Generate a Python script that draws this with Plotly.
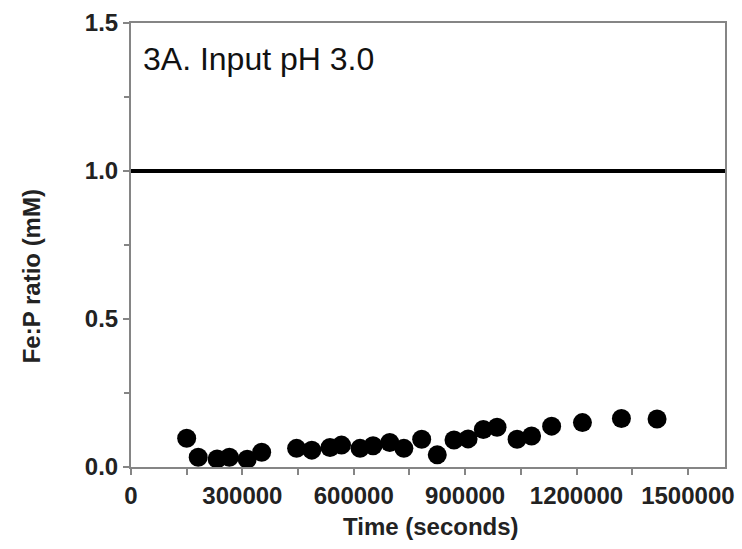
import plotly.graph_objects as go

# Data
time_s = [150000, 181000, 232000, 265000, 313000, 352000, 446000, 487000, 536000,
          567000, 617000, 652000, 697000, 735000, 783000, 825000, 870000, 908000,
          949000, 986000, 1040000, 1079000, 1133000, 1216000, 1321000, 1417000]
fe_p_ratio = [0.097, 0.033, 0.027, 0.033, 0.026, 0.050, 0.063, 0.057, 0.066,
              0.074, 0.063, 0.072, 0.083, 0.063, 0.094, 0.041, 0.091, 0.095,
              0.127, 0.134, 0.094, 0.105, 0.138, 0.150, 0.164, 0.162]

ref_x = [0, 1600000]
ref_y = [1.0, 1.0]

x_tickvals = [0, 300000, 600000, 900000, 1200000, 1500000]
x_ticktext = ["0", "300000", "600000", "900000", "1200000", "1500000"]
y_tickvals = [0.0, 0.5, 1.0, 1.5]
y_ticktext = ["0.0", "0.5", "1.0", "1.5"]

font_family = "Liberation Sans, Arial, sans-serif"
axis_color = "#858585"
text_color = "#222222"

fig = go.Figure()
fig.add_trace(go.Scatter(x=ref_x, y=ref_y, mode="lines",
                         line=dict(color="black", width=4),
                         showlegend=False, hoverinfo="skip"))
fig.add_trace(go.Scatter(x=time_s, y=fe_p_ratio, mode="markers",
                         marker=dict(color="black", size=19, line=dict(width=0)),
                         showlegend=False, cliponaxis=False))

fig.update_layout(
    width=742, height=549,
    margin=dict(l=131, r=17, t=23, b=82),
    paper_bgcolor="white", plot_bgcolor="white",
    font=dict(family=font_family, color=text_color),
    annotations=[
        dict(text="3A. Input pH 3.0", xref="paper", yref="paper",
             x=0.017, y=0.919, xanchor="left", yanchor="middle",
             showarrow=False,
             font=dict(size=32, family=font_family, color="#111111")),
        dict(text="<b>Fe:P ratio (mM)</b>", xref="paper", yref="paper",
             x=-0.168, y=0.43, xanchor="center", yanchor="middle",
             textangle=-90, showarrow=False,
             font=dict(size=24, family=font_family, color=text_color)),
        dict(text="<b>Time (seconds)</b>", xref="paper", yref="paper",
             x=0.505, y=-0.135, xanchor="center", yanchor="middle",
             showarrow=False,
             font=dict(size=24, family=font_family, color=text_color)),
    ],
)

fig.update_xaxes(
    range=[0, 1600000], showgrid=False, zeroline=False, automargin=False,
    showline=True, linecolor=axis_color, linewidth=2, mirror=True,
    ticks="outside", ticklen=6, tickwidth=2, tickcolor=axis_color,
    tickvals=x_tickvals, ticktext=x_ticktext,
    tickfont=dict(size=24, family=font_family, color=text_color, weight="bold"),
    minor=dict(ticks="outside", dtick=150000, tick0=0, ticklen=6, tickwidth=1.5,
               tickcolor=axis_color),
)
fig.update_yaxes(
    range=[0, 1.5], showgrid=False, zeroline=False, automargin=False,
    showline=True, linecolor=axis_color, linewidth=2, mirror=True,
    ticks="outside", ticklen=6, tickwidth=2, tickcolor=axis_color,
    tickvals=y_tickvals, ticktext=y_ticktext,
    tickfont=dict(size=24, family=font_family, color=text_color, weight="bold"),
    minor=dict(ticks="outside", dtick=0.25, tick0=0, ticklen=5, tickwidth=1.5,
               tickcolor=axis_color),
)

fig.write_html("out.html")
